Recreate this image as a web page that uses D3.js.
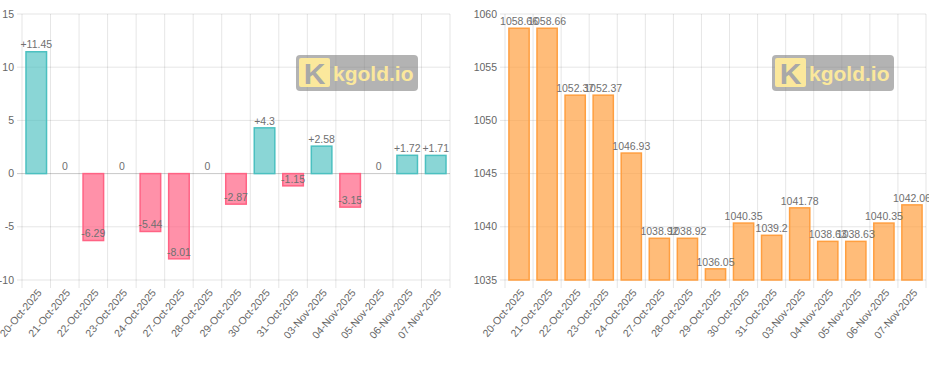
<!DOCTYPE html>
<html><head><meta charset="utf-8">
<script src="https://cdn.jsdelivr.net/npm/d3@7/dist/d3.min.js"></script>
<style>body{margin:0;background:#fff}svg{display:block}text{font-family:"Liberation Sans",Arial,sans-serif}</style>
</head><body><svg id="c" width="940" height="381"></svg>
<script>
const dates = ["20-Oct-2025","21-Oct-2025","22-Oct-2025","23-Oct-2025","24-Oct-2025","27-Oct-2025","28-Oct-2025","29-Oct-2025","30-Oct-2025","31-Oct-2025","03-Nov-2025","04-Nov-2025","05-Nov-2025","06-Nov-2025","07-Nov-2025"];
const changes = [11.45, 0, -6.29, 0, -5.44, -8.01, 0, -2.87, 4.3, -1.15, 2.58, -3.15, 0, 1.72, 1.71];
const prices = [1058.66, 1058.66, 1052.37, 1052.37, 1046.93, 1038.92, 1038.92, 1036.05, 1040.35, 1039.2, 1041.78, 1038.63, 1038.63, 1040.35, 1042.06];
const changeTicks = [-10, -5, 0, 5, 10, 15];
const priceTicks = [1035, 1040, 1045, 1050, 1055, 1060];

const svg = d3.select("#c");
const grid = "rgba(0,0,0,0.1)";

function panel(opt) {
  const g = svg.append("g");
  const clipId = "clip" + opt.id;
  svg.append("defs").append("clipPath").attr("id", clipId)
    .append("rect").attr("x", opt.clipX0).attr("y", 0).attr("width", opt.clipX1 - opt.clipX0).attr("height", 381);
  g.attr("clip-path", `url(#${clipId})`);
  const x = d3.scaleBand().domain(dates).range([opt.x0, opt.x1]).paddingInner(0).paddingOuter(0);
  const y = d3.scaleLinear().domain(opt.domain).range([280, 14]);
  const bounds = dates.map(d => x(d)).concat([opt.x1]);
  g.append("g").selectAll("line").data(bounds).join("line")
    .attr("x1", d => d).attr("x2", d => d).attr("y1", 14).attr("y2", 288)
    .attr("stroke", grid).attr("stroke-width", 1);
  g.append("g").selectAll("line").data(opt.ticks).join("line")
    .attr("x1", opt.x0 - 5).attr("x2", opt.x1).attr("y1", d => y(d)).attr("y2", d => y(d))
    .attr("stroke", d => (opt.zero && d === 0) ? "rgba(0,0,0,0.22)" : grid).attr("stroke-width", 1);
  g.append("g").selectAll("text").data(opt.ticks).join("text")
    .attr("x", opt.x0 - 8).attr("y", d => y(d)).attr("dy", "0.35em")
    .attr("text-anchor", "end").attr("font-size", 10.5).attr("fill", "#666")
    .text(d => d);
  const bw = x.bandwidth() * 0.72;
  const base = opt.zero ? 0 : opt.domain[0];
  g.append("g").selectAll("rect").data(opt.values).join("rect")
    .attr("x", (d, i) => x(dates[i]) + (x.bandwidth() - bw) / 2)
    .attr("width", bw)
    .attr("y", d => Math.min(y(d), y(base)))
    .attr("height", d => Math.abs(y(d) - y(base)))
    .attr("fill", d => opt.fill(d)).attr("stroke", d => opt.stroke(d)).attr("stroke-width", 1.5);
  g.append("g").selectAll("text").data(opt.values).join("text")
    .attr("x", (d, i) => x(dates[i]) + x.bandwidth() / 2)
    .attr("y", d => y(d) - 7).attr("dy", "0.35em")
    .attr("text-anchor", "middle").attr("font-size", 10.5).attr("fill", "#707070")
    .text(opt.fmt);
  g.append("g").selectAll("text").data(dates).join("text")
    .attr("transform", d => `translate(${x(d) + x.bandwidth() / 2 + 6},${293}) rotate(-50)`)
    .attr("text-anchor", "end").attr("font-size", 10.5).attr("fill", "#666")
    .text(d => d);
  const wm = g.append("g").attr("transform", `translate(${opt.wmX},55)`);
  wm.append("rect").attr("width", 122).attr("height", 36).attr("rx", 4).attr("fill", "rgba(128,128,128,0.6)");
  wm.append("rect").attr("x", 3).attr("y", 3).attr("width", 31).attr("height", 29).attr("rx", 2).attr("fill", "#fbe89c");
  wm.append("text").attr("x", 18.5).attr("y", 29).attr("text-anchor", "middle")
    .attr("font-size", 30).attr("font-weight", "bold").attr("fill", "#a8a8a8").text("K");
  wm.append("text").attr("x", 37).attr("y", 26).attr("font-size", 21).attr("font-weight", "bold")
    .attr("fill", "#fbe89c").text("kgold.io");
}

panel({
  id: 1, x0: 22, x1: 450, clipX0: 0, clipX1: 460, domain: [-10, 15], ticks: changeTicks, values: changes, zero: true,
  fill: d => d < 0 ? "rgba(255,99,132,0.7)" : "rgba(75,192,192,0.65)",
  stroke: d => d < 0 ? "rgb(255,99,132)" : "rgb(75,192,192)",
  fmt: d => d > 0 ? "+" + d : String(d), wmX: 296
});
panel({
  id: 2, x0: 505, x1: 926, clipX0: 465, clipX1: 929, domain: [1035, 1060], ticks: priceTicks, values: prices, zero: false,
  fill: () => "rgba(255,159,64,0.7)", stroke: () => "rgb(255,159,64)",
  fmt: d => String(d), wmX: 772
});
</script></body></html>
